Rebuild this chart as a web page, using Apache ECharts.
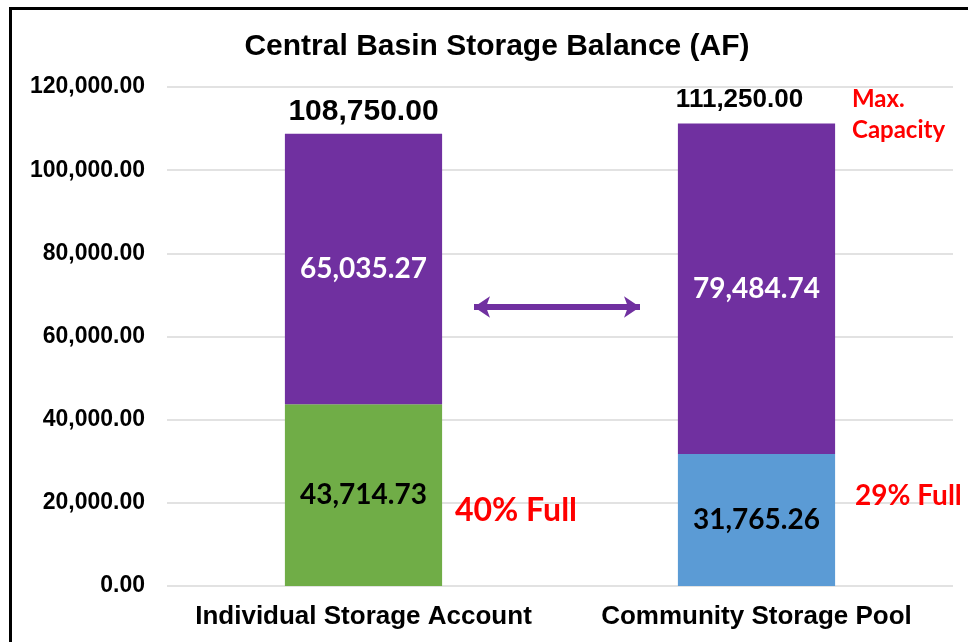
<!doctype html>
<html>
    <head>
        <meta charset="utf-8">
        <title>Central Basin Storage Balance</title>
        <style>
            html, body { margin: 0; padding: 0; background: #fff; }
            #frame { position: absolute; left: 9px; top: 7px; width: 980px; height: 660px;
                     border-left: 3px solid #000; border-top: 3px solid #000; }
            #main { position: absolute; left: 0; top: 0; width: 968px; height: 642px; }
        </style>
    </head>
    <body>
        <div id="frame"></div>
        <div id="main"></div>
        <script src="https://cdn.jsdelivr.net/npm/echarts@6/dist/echarts.min.js"></script>
        <script>
            var categories = ['Individual Storage Account', 'Community Storage Pool'];
            var usedStorage = [43714.73, 31765.26];
            var remainingStorage = [65035.27, 79484.74];
            var totals = [108750.00, 111250.00];
            var yTicks = [0, 20000, 40000, 60000, 80000, 100000, 120000];

            var arial = '"Liberation Sans", Arial, sans-serif';
            var calib = 'Lato, "Open Sans", sans-serif';

            function fmt(v) {
                return v.toLocaleString('en-US', { minimumFractionDigits: 2, maximumFractionDigits: 2 });
            }

            var chart = echarts.init(document.getElementById('main'));

            chart.setOption({
                backgroundColor: 'transparent',
                animation: false,
                title: {
                    text: 'Central Basin Storage Balance (AF)',
                    left: 492,
                    textAlign: 'center',
                    top: 27,
                    textStyle: { fontFamily: arial, fontSize: 30, fontWeight: 'bold', color: '#000' }
                },
                grid: { left: 167, right: 15, top: 87, bottom: 56 },
                xAxis: {
                    type: 'category',
                    data: categories,
                    axisLine: { show: false },
                    axisTick: { show: false },
                    axisLabel: {
                        interval: 0,
                        margin: 18,
                        fontFamily: arial, fontSize: 26, fontWeight: 'bold', color: '#000'
                    }
                },
                yAxis: {
                    type: 'value',
                    min: yTicks[0],
                    max: yTicks[yTicks.length - 1],
                    interval: 20000,
                    axisLine: { show: false },
                    axisTick: { show: false },
                    splitLine: { lineStyle: { color: '#d9d9d9', width: 1.5 } },
                    axisLabel: {
                        margin: 22,
                        formatter: function (v) { return fmt(v); },
                        fontFamily: arial, fontSize: 23, fontWeight: 'bold', color: '#000'
                    }
                },
                series: [{
                    type: 'bar',
                    stack: 'total',
                    barWidth: '40%',
                    data: [
                        { value: usedStorage[0], itemStyle: { color: '#70ad47' } },
                        { value: usedStorage[1], itemStyle: { color: '#5b9bd5' } }
                    ],
                    label: {
                        show: true,
                        position: 'inside',
                        formatter: function (p) { return fmt(p.value); },
                        fontFamily: calib, fontSize: 28, fontWeight: 'bold', color: '#000'
                    }
                }, {
                    type: 'bar',
                    stack: 'total',
                    itemStyle: { color: '#7030a0' },
                    data: remainingStorage,
                    label: {
                        show: true,
                        position: 'inside',
                        formatter: function (p) { return fmt(p.value); },
                        fontFamily: calib, fontSize: 28, fontWeight: 'bold', color: '#fff'
                    },
                    markLine: {
                        silent: true,
                        symbol: ['arrow', 'arrow'],
                        symbolSize: [16, 16],
                        lineStyle: { color: '#7030a0', width: 6, type: 'solid', opacity: 1 },
                        label: { show: false },
                        data: [[{ x: 474, y: 307 }, { x: 640, y: 307 }]]
                    }
                }, {
                    type: 'bar',
                    stack: 'total',
                    data: [
                        { value: 0, label: { fontSize: 30, offset: [0, -2] } },
                        { value: 0, label: { fontSize: 26, offset: [-17, -6] } }
                    ],
                    itemStyle: { color: 'transparent' },
                    label: {
                        show: true,
                        position: 'top',
                        formatter: function (p) { return fmt(totals[p.dataIndex]); },
                        fontFamily: arial, fontWeight: 'bold', color: '#000'
                    }
                }],
                graphic: [{
                    type: 'text',
                    z: 100,
                    left: 455, top: 495,
                    style: { text: '40% Full', fill: '#ff0000', font: 'bold 32px ' + calib }
                }, {
                    type: 'text',
                    z: 100,
                    left: 855, top: 482,
                    style: { text: '29% Full', fill: '#ff0000', font: 'bold 28px ' + calib }
                }, {
                    type: 'text',
                    z: 100,
                    left: 852, top: 84,
                    style: { text: 'Max.\nCapacity', fill: '#ff0000', font: 'bold 24px ' + calib, lineHeight: 31 }
                }]
            });

            window.addEventListener('resize', function () {
                chart.resize();
            });
        </script>
    </body>
</html>
